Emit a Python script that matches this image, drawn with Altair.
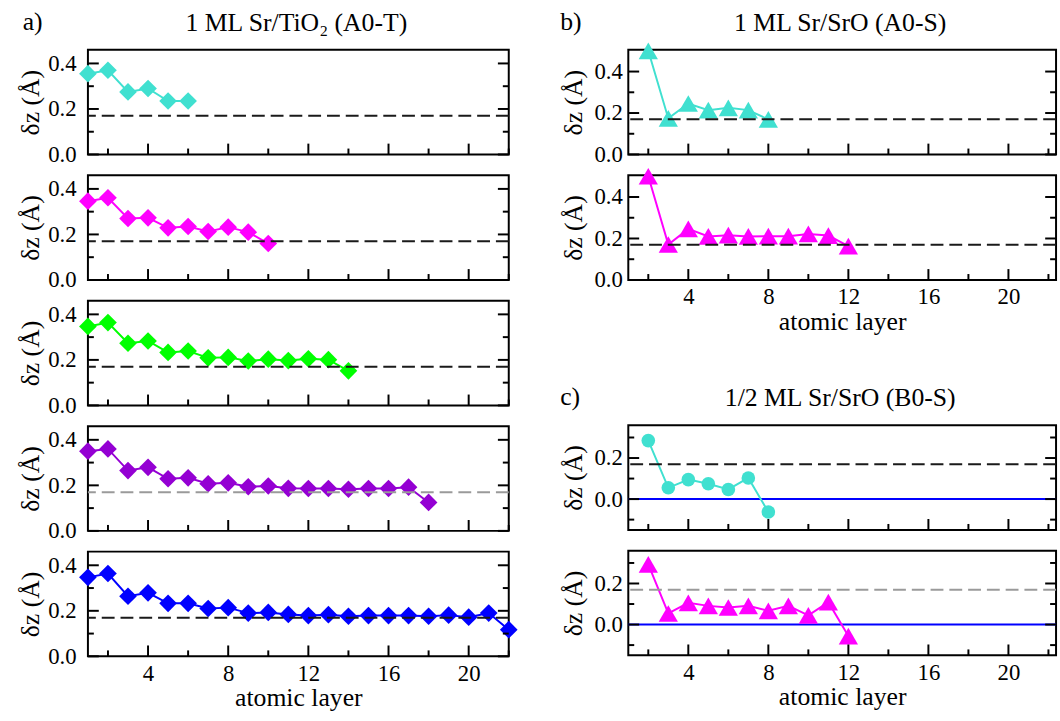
import altair as alt
import pandas as pd

FONT = "Liberation Serif"

# ---------------- data ----------------
a1 = [0.355, 0.37, 0.275, 0.29, 0.235, 0.235]
a2 = [0.346, 0.361, 0.27, 0.273, 0.229, 0.235, 0.213, 0.232, 0.21, 0.16]
a3 = [0.347, 0.364, 0.273, 0.283, 0.233, 0.239, 0.209, 0.211, 0.195, 0.203,
      0.197, 0.205, 0.201, 0.152]
a4 = [0.35, 0.36, 0.265, 0.279, 0.229, 0.233, 0.207, 0.211, 0.194, 0.197,
      0.187, 0.186, 0.186, 0.183, 0.186, 0.186, 0.192, 0.125]
a5 = [0.347, 0.364, 0.264, 0.279, 0.233, 0.233, 0.21, 0.214, 0.19, 0.193,
      0.184, 0.179, 0.183, 0.176, 0.179, 0.179, 0.179, 0.176, 0.181, 0.172,
      0.19, 0.117]

b1 = [0.5, 0.174, 0.246, 0.214, 0.225, 0.214, 0.169]
b2 = [0.5, 0.171, 0.246, 0.21, 0.216, 0.21, 0.211, 0.211, 0.222, 0.214, 0.163]

c1 = [0.285, 0.055, 0.095, 0.075, 0.047, 0.103, -0.063]
c2 = [0.293, 0.054, 0.106, 0.091, 0.083, 0.091, 0.067, 0.091, 0.045, 0.109,
      -0.056]

bulk_ref = 0.17

x_major = [4, 8, 12, 16, 20]
x_minor = [2, 6, 10, 14, 18, 22]

title_a = "1 ML Sr/TiO₂ (A0-T)"
title_b = "1 ML Sr/SrO (A0-S)"
title_c = "1/2 ML Sr/SrO (B0-S)"

TURQ = "#40E0D0"
MAG = "#FF00FF"
GREEN = "#00FF00"
VIOLET = "#9400D3"
BLUE = "#0000FF"
DARK = "#1a1a1a"
GREY = "#9a9a9a"

H = 106
LABEL_FS = 23
TITLE_FS = 26


def panel(vals, start, color, shape, size, ydom, ymaj, ymin, dash_color,
          width, xmax, label_pad, title_pad, show_x=False, title=None,
          letter=None, letter_dx=-65, zero_line=False):
    df = pd.DataFrame({"x": list(range(start, start + len(vals))), "y": vals})
    if show_x:
        xaxis = alt.Axis(values=x_major, tickSize=0, domain=False, grid=False,
                         labelFontSize=LABEL_FS, labelFont=FONT, labelPadding=6,
                         title="atomic layer", titleFont=FONT,
                         titleFontSize=TITLE_FS, titleFontWeight="normal",
                         titlePadding=0, titleColor="black", labelColor="black")
    else:
        xaxis = None
    X = alt.X("x:Q", scale=alt.Scale(domain=[1, xmax], nice=False, zero=False),
              axis=xaxis)
    Y = alt.Y("y:Q", scale=alt.Scale(domain=ydom, nice=False, zero=False),
              axis=alt.Axis(values=ymaj, format=".1f", tickSize=0, domain=False,
                            grid=False, labelFontSize=LABEL_FS, labelFont=FONT,
                            labelPadding=label_pad, labelColor="black",
                            title="δz (Å)", titleFont=FONT,
                            titleFontSize=TITLE_FS, titleFontWeight="normal",
                            titlePadding=title_pad, titleColor="black"))

    base = alt.Chart(df)
    line = base.mark_line(color=color, strokeWidth=2).encode(x=X, y=Y)
    pts = base.mark_point(filled=True, shape=shape, size=size, color=color,
                          opacity=1).encode(x=X, y=Y)

    layers = []
    if zero_line:
        layers.append(alt.Chart(pd.DataFrame({"y": [0.0]})).mark_rule(
            color=BLUE, strokeWidth=2).encode(y=Y))
    layers += [line, pts]
    layers.append(alt.Chart(pd.DataFrame({"y": [bulk_ref]})).mark_rule(
        color=dash_color, strokeWidth=2, strokeDash=[13, 6]).encode(y=Y))

    # inward ticks (bottom, left, right)
    xmaj_df = pd.DataFrame({"x": x_major})
    xmin_df = pd.DataFrame({"x": x_minor})
    ymaj_df = pd.DataFrame({"y": ymaj})
    ymin_df = pd.DataFrame({"y": ymin})
    tick = dict(color="black", strokeWidth=2)
    layers.append(alt.Chart(xmaj_df).mark_rule(**tick).encode(
        x=X, y=alt.value(H), y2=alt.value(H - 11)))
    layers.append(alt.Chart(xmin_df).mark_rule(**tick).encode(
        x=X, y=alt.value(H), y2=alt.value(H - 6)))
    for side, inner_maj, inner_min in [(0, 11, 6), (width, width - 11, width - 6)]:
        layers.append(alt.Chart(ymaj_df).mark_rule(**tick).encode(
            y=Y, x=alt.value(side), x2=alt.value(inner_maj)))
        layers.append(alt.Chart(ymin_df).mark_rule(**tick).encode(
            y=Y, x=alt.value(side), x2=alt.value(inner_min)))

    if letter:
        layers.append(alt.Chart(pd.DataFrame({"t": [letter]})).mark_text(
            align="left", baseline="middle", fontSize=TITLE_FS, font=FONT,
            color="black").encode(text="t:N", x=alt.value(letter_dx),
                                  y=alt.value(-28)))
    if title:
        layers.append(alt.Chart(pd.DataFrame({"t": [title]})).mark_text(
            align="center", baseline="middle", fontSize=TITLE_FS, font=FONT,
            color="black").encode(text="t:N", x=alt.value(width / 2 - 2),
                                  y=alt.value(-27)))

    return alt.layer(*layers).properties(width=width, height=H)


WL = 426
WR = 433
ya = [0, 0.46]
yb = [0, 0.505]
yc = [-0.15, 0.36]
maj_ab = [0.0, 0.2, 0.4]
min_ab = [0.1, 0.3]
maj_c = [0.0, 0.2]
min_c = [-0.1, 0.1, 0.3]

left_args = dict(width=WL, xmax=22, label_pad=12, title_pad=4, shape="diamond",
                 size=320, ydom=ya, ymaj=maj_ab, ymin=min_ab, start=1)
pa1 = panel(a1, color=TURQ, dash_color=DARK, title=title_a, letter="a)",
            letter_dx=-66, **left_args)
pa2 = panel(a2, color=MAG, dash_color=DARK, **left_args)
pa3 = panel(a3, color=GREEN, dash_color=DARK, **left_args)
pa4 = panel(a4, color=VIOLET, dash_color=GREY, **left_args)
pa5 = panel(a5, color=BLUE, dash_color=DARK, show_x=True, **left_args)

TRI = 380
right_args = dict(width=WR, xmax=22.38, label_pad=6, title_pad=8, start=2)
pb1 = panel(b1, color=TURQ, shape="triangle-up", size=TRI, ydom=yb,
            ymaj=maj_ab, ymin=min_ab, dash_color=DARK, title=title_b,
            letter="b)", letter_dx=-69, **right_args)
pb2 = panel(b2, color=MAG, shape="triangle-up", size=TRI, ydom=yb,
            ymaj=maj_ab, ymin=min_ab, dash_color=DARK, show_x=True,
            **right_args)
pc1 = panel(c1, color=TURQ, shape="circle", size=190, ydom=yc, ymaj=maj_c,
            ymin=min_c, dash_color=DARK, zero_line=True, title=title_c,
            letter="c)", letter_dx=-69, **right_args)
pc2 = panel(c2, color=MAG, shape="triangle-up", size=TRI, ydom=yc, ymaj=maj_c,
            ymin=min_c, dash_color=GREY, zero_line=True, show_x=True,
            **right_args)

# invisible spacer between panel groups b) and c)
spacer = alt.Chart(pd.DataFrame({"x": [1]})).mark_point(opacity=0).encode(
    x=alt.X("x:Q", axis=None), y=alt.Y("x:Q", axis=None)
).properties(width=WR, height=105,
             view=alt.ViewBackground(stroke="transparent"))

left = alt.vconcat(pa1, pa2, pa3, pa4, pa5, spacing=21, bounds="flush")
right = alt.vconcat(pb1, pb2, spacer, pc1, pc2, spacing=21, bounds="flush")

chart = alt.hconcat(
    left, right, spacing=41,
    padding={"left": 17, "top": 4, "right": 0, "bottom": 0},
).configure_view(stroke="black", strokeWidth=2).configure_axis(
    labelFont=FONT, titleFont=FONT, labelFontSize=LABEL_FS,
    titleFontSize=TITLE_FS, labelColor="black", titleColor="black",
    titleFontWeight="normal", grid=False, domain=False, tickSize=0
)

chart.save("out.html", embed_options={"renderer": "svg", "actions": False})
